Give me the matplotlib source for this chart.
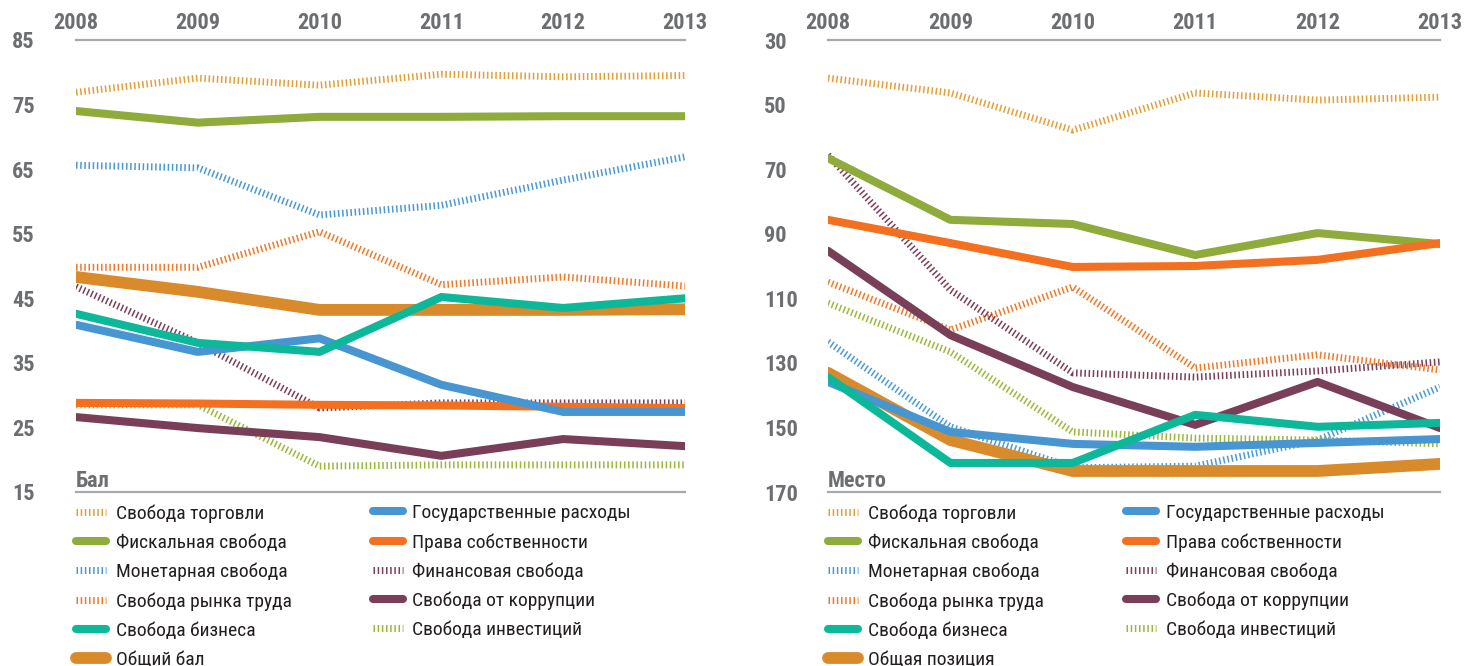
import matplotlib
matplotlib.use("Agg")
import matplotlib.pyplot as plt

plt.rcParams['font.family'] = ['Roboto Condensed', 'Fira Sans Condensed', 'DejaVu Sans']
plt.rcParams['lines.scale_dashes'] = False

#------------------------------ Datos ---------------------------------------
years = [2008, 2009, 2010, 2011, 2012, 2013]

# Баллы (левый график)
trade_score = [76.9, 79.1, 78.0, 79.7, 79.3, 79.5]
fiscal_score = [74.0, 72.2, 73.1, 73.1, 73.2, 73.2]
monetary_score = [65.6, 65.2, 57.9, 59.4, 63.3, 66.9]
labor_score = [49.8, 49.8, 55.3, 47.1, 48.3, 46.9]
business_score = [42.6, 38.1, 36.7, 45.2, 43.5, 45.0]
overall_score = [48.3, 46.0, 43.2, 43.2, 43.2, 43.3]
gov_score = [40.9, 36.7, 38.8, 31.6, 27.4, 27.4]
property_score = [28.8, 28.7, 28.5, 28.4, 28.2, 28.0]
financial_score = [46.8, 38.1, 28.0, 28.8, 28.8, 28.8]
corruption_score = [26.6, 24.9, 23.5, 20.6, 23.2, 22.1]
investment_score = [28.5, 28.5, 19.0, 19.2, 19.2, 19.2]

# Места (правый график)
trade_rank = [41.8, 46.4, 57.9, 46.4, 48.6, 47.7]
fiscal_rank = [66.6, 85.7, 87.0, 96.6, 89.8, 93.2]
monetary_rank = [123.5, 149.8, 162.5, 162.0, 153.9, 137.5]
labor_rank = [105.0, 119.8, 106.5, 131.6, 127.5, 132.2]
business_rank = [134.4, 161.0, 161.0, 146.1, 149.8, 148.6]
overall_rank = [133.1, 153.9, 163.5, 163.5, 163.5, 161.3]
gov_rank = [135.9, 151.4, 155.1, 156.0, 154.8, 153.6]
property_rank = [85.7, 92.9, 100.3, 100.0, 98.1, 92.9]
financial_rank = [65.6, 107.4, 133.1, 134.4, 132.5, 129.7]
corruption_rank = [95.3, 121.4, 137.5, 149.2, 135.9, 150.2]
investment_rank = [111.5, 126.6, 151.4, 153.3, 153.9, 155.1]

names_col1 = ["Свобода торговли", "Фискальная свобода", "Монетарная свобода",
              "Свобода рынка труда", "Свобода бизнеса"]
names_col2 = ["Государственные расходы", "Права собственности", "Финансовая свобода",
              "Свобода от коррупции", "Свобода инвестиций"]

#------------------------------ Estilos -------------------------------------
GRIS = "#6d6e71"
colores = {
    "trade": "#e3a03a", "fiscal": "#8fab3c", "monetary": "#4a9ad6",
    "labor": "#f07a2a", "business": "#0db89a", "overall": "#d98b2b",
    "gov": "#4795d1", "property": "#f37021", "financial": "#7b3f5a",
    "corruption": "#7a3f58", "investment": "#9cb83c",
}
punteadas = {"trade", "monetary", "labor", "financial", "investment"}
orden = ["trade", "monetary", "labor", "financial", "investment", "overall",
         "fiscal", "property", "corruption", "gov", "business"]

def estilo(clave):
    if clave in punteadas:
        return dict(lw=5.0, dashes=(1.1, 1.9), dash_capstyle="butt", zorder=2)
    if clave == "overall":
        return dict(lw=8.5, solid_capstyle="round", solid_joinstyle="round", zorder=3)
    return dict(lw=5.8, solid_capstyle="round", solid_joinstyle="round", zorder=4)

def panel(ax, datos, ylim, ticks, etiqueta, total):
    handles = {}
    for clave in orden:
        ln, = ax.plot(years, datos[clave], color=colores[clave], **estilo(clave))
        handles[clave] = ln
    ax.set_xlim(years[0], years[-1])
    ax.set_ylim(*ylim)
    ax.set_xticks(years)
    ax.set_yticks(ticks)
    ax.xaxis.tick_top()
    ax.tick_params(axis="x", length=0, pad=4.5, labelsize=16, labelcolor=GRIS)
    ax.tick_params(axis="y", length=0, pad=46, labelsize=16, labelcolor=GRIS)
    for t in ax.get_xticklabels() + ax.get_yticklabels():
        t.set_fontweight("bold")
    for t in ax.get_yticklabels():
        t.set_horizontalalignment("left")
    for s in ("left", "right"):
        ax.spines[s].set_visible(False)
    for s in ("top", "bottom"):
        ax.spines[s].set_color("#a7a9ac")
        ax.spines[s].set_linewidth(1.6)
    ax.text(0, 0.011, etiqueta, transform=ax.transAxes, ha="left", va="baseline",
            fontsize=16, fontweight="bold", color=GRIS)
    # leyenda en dos columnas
    col1 = [handles[k] for k in ("trade", "fiscal", "monetary", "labor", "business", "overall")]
    col2 = [handles[k] for k in ("gov", "property", "financial", "corruption", "investment")]
    kw = dict(loc="upper left", frameon=False, fontsize=14, handlelength=1.55,
              handletextpad=0.5, labelspacing=0.565, borderpad=0, borderaxespad=0,
              labelcolor="#231f20")
    leg1 = ax.legend(col1, names_col1 + [total], bbox_to_anchor=(0.0, -0.027), **kw)
    ax.add_artist(leg1)
    ax.legend(col2, names_col2, bbox_to_anchor=(0.487, -0.027), **kw)

fig = plt.figure(figsize=(14.72, 6.66), dpi=100)
ax1 = fig.add_axes([76/1472, 174/666, 609/1472, 452/666])
ax2 = fig.add_axes([828/1472, 174/666, 612/1472, 452/666])

datos_bal = {"trade": trade_score, "fiscal": fiscal_score, "monetary": monetary_score,
             "labor": labor_score, "business": business_score, "overall": overall_score,
             "gov": gov_score, "property": property_score, "financial": financial_score,
             "corruption": corruption_score, "investment": investment_score}
datos_mesto = {"trade": trade_rank, "fiscal": fiscal_rank, "monetary": monetary_rank,
               "labor": labor_rank, "business": business_rank, "overall": overall_rank,
               "gov": gov_rank, "property": property_rank, "financial": financial_rank,
               "corruption": corruption_rank, "investment": investment_rank}

panel(ax1, datos_bal, (15, 85), [15, 25, 35, 45, 55, 65, 75, 85], "Бал", "Общий бал")
panel(ax2, datos_mesto, (170, 30), [30, 50, 70, 90, 110, 130, 150, 170], "Место", "Общая позиция")

fig.savefig("out.png", dpi=100)
